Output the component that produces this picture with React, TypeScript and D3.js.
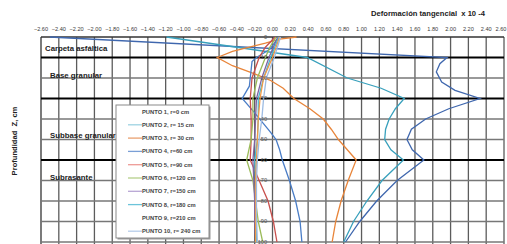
import * as d3 from 'd3';

// depths (cm) shared by the near-surface points, values in x10^-4
const xTicks = d3.range(-2.6, 2.6001, 0.2);
const depthTicks = [0, 10, 20, 30, 40, 50, 60, 70, 80, 90, 100];
const layerBounds = [10, 30, 60];

const layers = [
  { name: 'Carpeta asfáltica', depth: 5.5, x: 45 },
  { name: 'Base granular', depth: 18.5, x: 50 },
  { name: 'Subbase granular', depth: 48, x: 50 },
  { name: 'Subrasante', depth: 68.5, x: 50 },
];

type Pt = [number, number]; // [depth, value]

const punto1: Pt[] = [[0, -2.5], [10, 1.96], [13, 1.88], [17, 1.84], [22, 1.9], [26, 2.05], [30, 2.33], [35, 1.98], [40, 1.72], [45, 1.56], [50, 1.51], [55, 1.57], [60, 1.7], [70, 1.4], [80, 1.17], [90, 0.98], [100, 0.82]];
const punto2: Pt[] = [[0, -1.19], [10, 0.39], [20, 0.84], [25, 1.22], [30, 1.48], [35, 1.38], [40, 1.31], [45, 1.27], [50, 1.26], [55, 1.33], [60, 1.47], [70, 1.23], [80, 1.06], [90, 0.91], [100, 0.8]];
const punto3: Pt[] = [[0, 0.27], [1, 0.08], [3, -0.08], [7, -0.45], [10, -0.62], [14, -0.45], [18, -0.2], [21, -0.03], [25, 0.12], [30, 0.24], [35, 0.42], [40, 0.57], [45, 0.66], [50, 0.74], [55, 0.84], [60, 0.94], [70, 0.85], [80, 0.77], [90, 0.71], [100, 0.67]];
const punto4: Pt[] = [[0, 0.07], [6, -0.03], [10, -0.18], [12, -0.23], [20, -0.25], [24, -0.26], [30, -0.34], [37, -0.2], [46, -0.03], [50, 0.04], [55, 0.08], [60, 0.11], [70, 0.19], [80, 0.26], [90, 0.31], [100, 0.33]];
const punto5: Pt[] = [[0, 0.03], [5, -0.08], [10, -0.15], [15, -0.19], [20, -0.23], [25, -0.24], [30, -0.25], [40, -0.24], [50, -0.24], [60, -0.25], [70, -0.15], [80, -0.05], [90, 0.01], [100, 0.05]];
const punto6: Pt[] = [[0, 0.04], [5, -0.03], [10, -0.08], [20, -0.17], [30, -0.22], [40, -0.22], [50, -0.24], [60, -0.29], [70, -0.22], [80, -0.19], [90, -0.16], [100, -0.11]];
const punto7: Pt[] = [[0, 0.06], [10, -0.04], [20, -0.12], [30, -0.18], [40, -0.19], [50, -0.2], [60, -0.22], [70, -0.21], [80, -0.2], [90, -0.2], [100, -0.19]];
const punto8: Pt[] = [[0, 0.07], [10, -0.02], [20, -0.1], [30, -0.16], [40, -0.16], [50, -0.17], [60, -0.2], [70, -0.19], [80, -0.19], [90, -0.18], [100, -0.18]];
const punto9: Pt[] = [[0, 0.08], [10, 0.0], [20, -0.1], [30, -0.14], [40, -0.16], [50, -0.17], [60, -0.18], [70, -0.19], [80, -0.19], [90, -0.19], [100, -0.19]];
const punto10: Pt[] = [[0, 0.09], [10, 0.02], [20, -0.07], [30, -0.1], [40, -0.12], [50, -0.15], [60, -0.17], [70, -0.18], [80, -0.18], [90, -0.18], [100, -0.17]];

const series = [
  { label: 'PUNTO 1, r=0 cm', data: punto1, color: '#3F67AE', legendLine: false },
  { label: 'PUNTO 2, r= 15 cm', data: punto2, color: '#38A0BC', legendLine: true, legendColor: '#9ED3E2' },
  { label: 'PUNTO 3, r= 30 cm', data: punto3, color: '#E8853A', legendLine: true, legendColor: '#E9A070' },
  { label: 'PUNTO 4, r=60 cm', data: punto4, color: '#4A7DC6', legendLine: true, legendColor: '#7A9FD6' },
  { label: 'PUNTO 5, r=90 cm', data: punto5, color: '#C9504D', legendLine: true, legendColor: '#EE9A96' },
  { label: 'PUNTO 6, r=120 cm', data: punto6, color: '#9BBB59', legendLine: true, legendColor: '#B5CF8A' },
  { label: 'PUNTO 7, r=150 cm', data: punto7, color: '#8064A2', legendLine: true, legendColor: '#B8A6D4' },
  { label: 'PUNTO 8, r=180 cm', data: punto8, color: '#4BB8D0', legendLine: true, legendColor: '#6CC4DA' },
  { label: 'PUNTO 9, r=210 cm', data: punto9, color: '#F39A45', legendLine: false },
  { label: 'PUNTO 10, r= 240 cm', data: punto10, color: '#9DBBE2', legendLine: true, legendColor: '#B6CDEA' },
];

const W = 507;
const H = 244;
const FONT = '"Liberation Sans", Arial, sans-serif';

export default function App() {
  const x = d3.scaleLinear().domain([-2.6, 2.6]).range([41, 504]);
  const y = d3.scaleLinear().domain([0, 100]).range([37, 242]);
  const line = d3.line<Pt>()
    .x((d) => x(d[1]))
    .y((d) => y(d[0]));

  const legX = 116;
  const legY = 105;
  const legW = 93;
  const legH = 133;
  const rowH = 13.3;

  return (
    <svg width={W} height={H} style={{ position: 'absolute', left: 0, top: 0, background: '#fff' }} fontFamily={FONT}>
      {/* vertical grid */}
      {xTicks.map((t, i) => (
        <line key={'vx' + i} x1={x(t)} x2={x(t)} y1={y(0)} y2={H} stroke={i === 0 ? '#333' : '#5c5c5c'} strokeWidth={1.3} />
      ))}
      {/* horizontal grid */}
      {depthTicks.map((d) => (
        <line key={'hy' + d} x1={x(-2.6)} x2={x(2.6)} y1={y(d)} y2={y(d)}
          stroke={layerBounds.includes(d) ? '#000' : d === 0 ? '#333' : '#777'}
          strokeWidth={layerBounds.includes(d) ? 2 : 1.5} />
      ))}
      {/* x tick labels */}
      {xTicks.map((t, i) => (
        <text key={'tx' + i} x={Math.min(x(t), 501)} y={31} fontSize={5.6} fill="#3a3a3a" textAnchor="middle">
          {d3.format('.2f')(Math.abs(t) < 1e-9 ? 0 : t)}
        </text>
      ))}
      {/* layer names */}
      {layers.map((l) => (
        <text key={l.name} x={l.x} y={y(l.depth)} dy="0.35em" fontSize={7.8} fontWeight="bold" fill="#222">
          {l.name}
        </text>
      ))}
      {/* series */}
      {series.map((s) => (
        <path key={s.label} d={line(s.data) ?? ''} fill="none" stroke={s.color} strokeWidth={1.3} />
      ))}
      {/* depth labels along zero */}
      {depthTicks.map((d) => (
        <text key={'ly' + d} x={267} y={y(d)} dy="0.35em" fontSize={5.6} fill="#555" textAnchor="end">
          {d}
        </text>
      ))}
      {/* legend */}
      <rect x={legX + 1.5} y={legY + 1.5} width={legW} height={legH} fill="#9a9a9a" />
      <rect x={legX} y={legY} width={legW} height={legH} fill="#fff" stroke="#8a8a8a" strokeWidth={1} />
      {series.map((s, i) => {
        const cy = legY + 6.5 + i * rowH;
        return (
          <g key={'lg' + i}>
            {s.legendLine && (
              <line x1={128} x2={142} y1={cy} y2={cy} stroke={s.legendColor} strokeWidth={1.3} />
            )}
            <text x={142} y={cy} dy="0.35em" fontSize={5.8} fontWeight="bold" fill="#444">
              {s.label}
            </text>
          </g>
        );
      })}
      {/* axis titles */}
      <text x={428} y={16} fontSize={7.6} fontWeight="bold" fill="#222" textAnchor="middle" xmlSpace="preserve">
        Deformación tangencial  x 10 -4
      </text>
      <text transform="translate(17,141) rotate(-90)" fontSize={7.6} fontWeight="bold" fill="#222" textAnchor="middle" xmlSpace="preserve">
        Profundidad  Z, cm
      </text>
    </svg>
  );
}
